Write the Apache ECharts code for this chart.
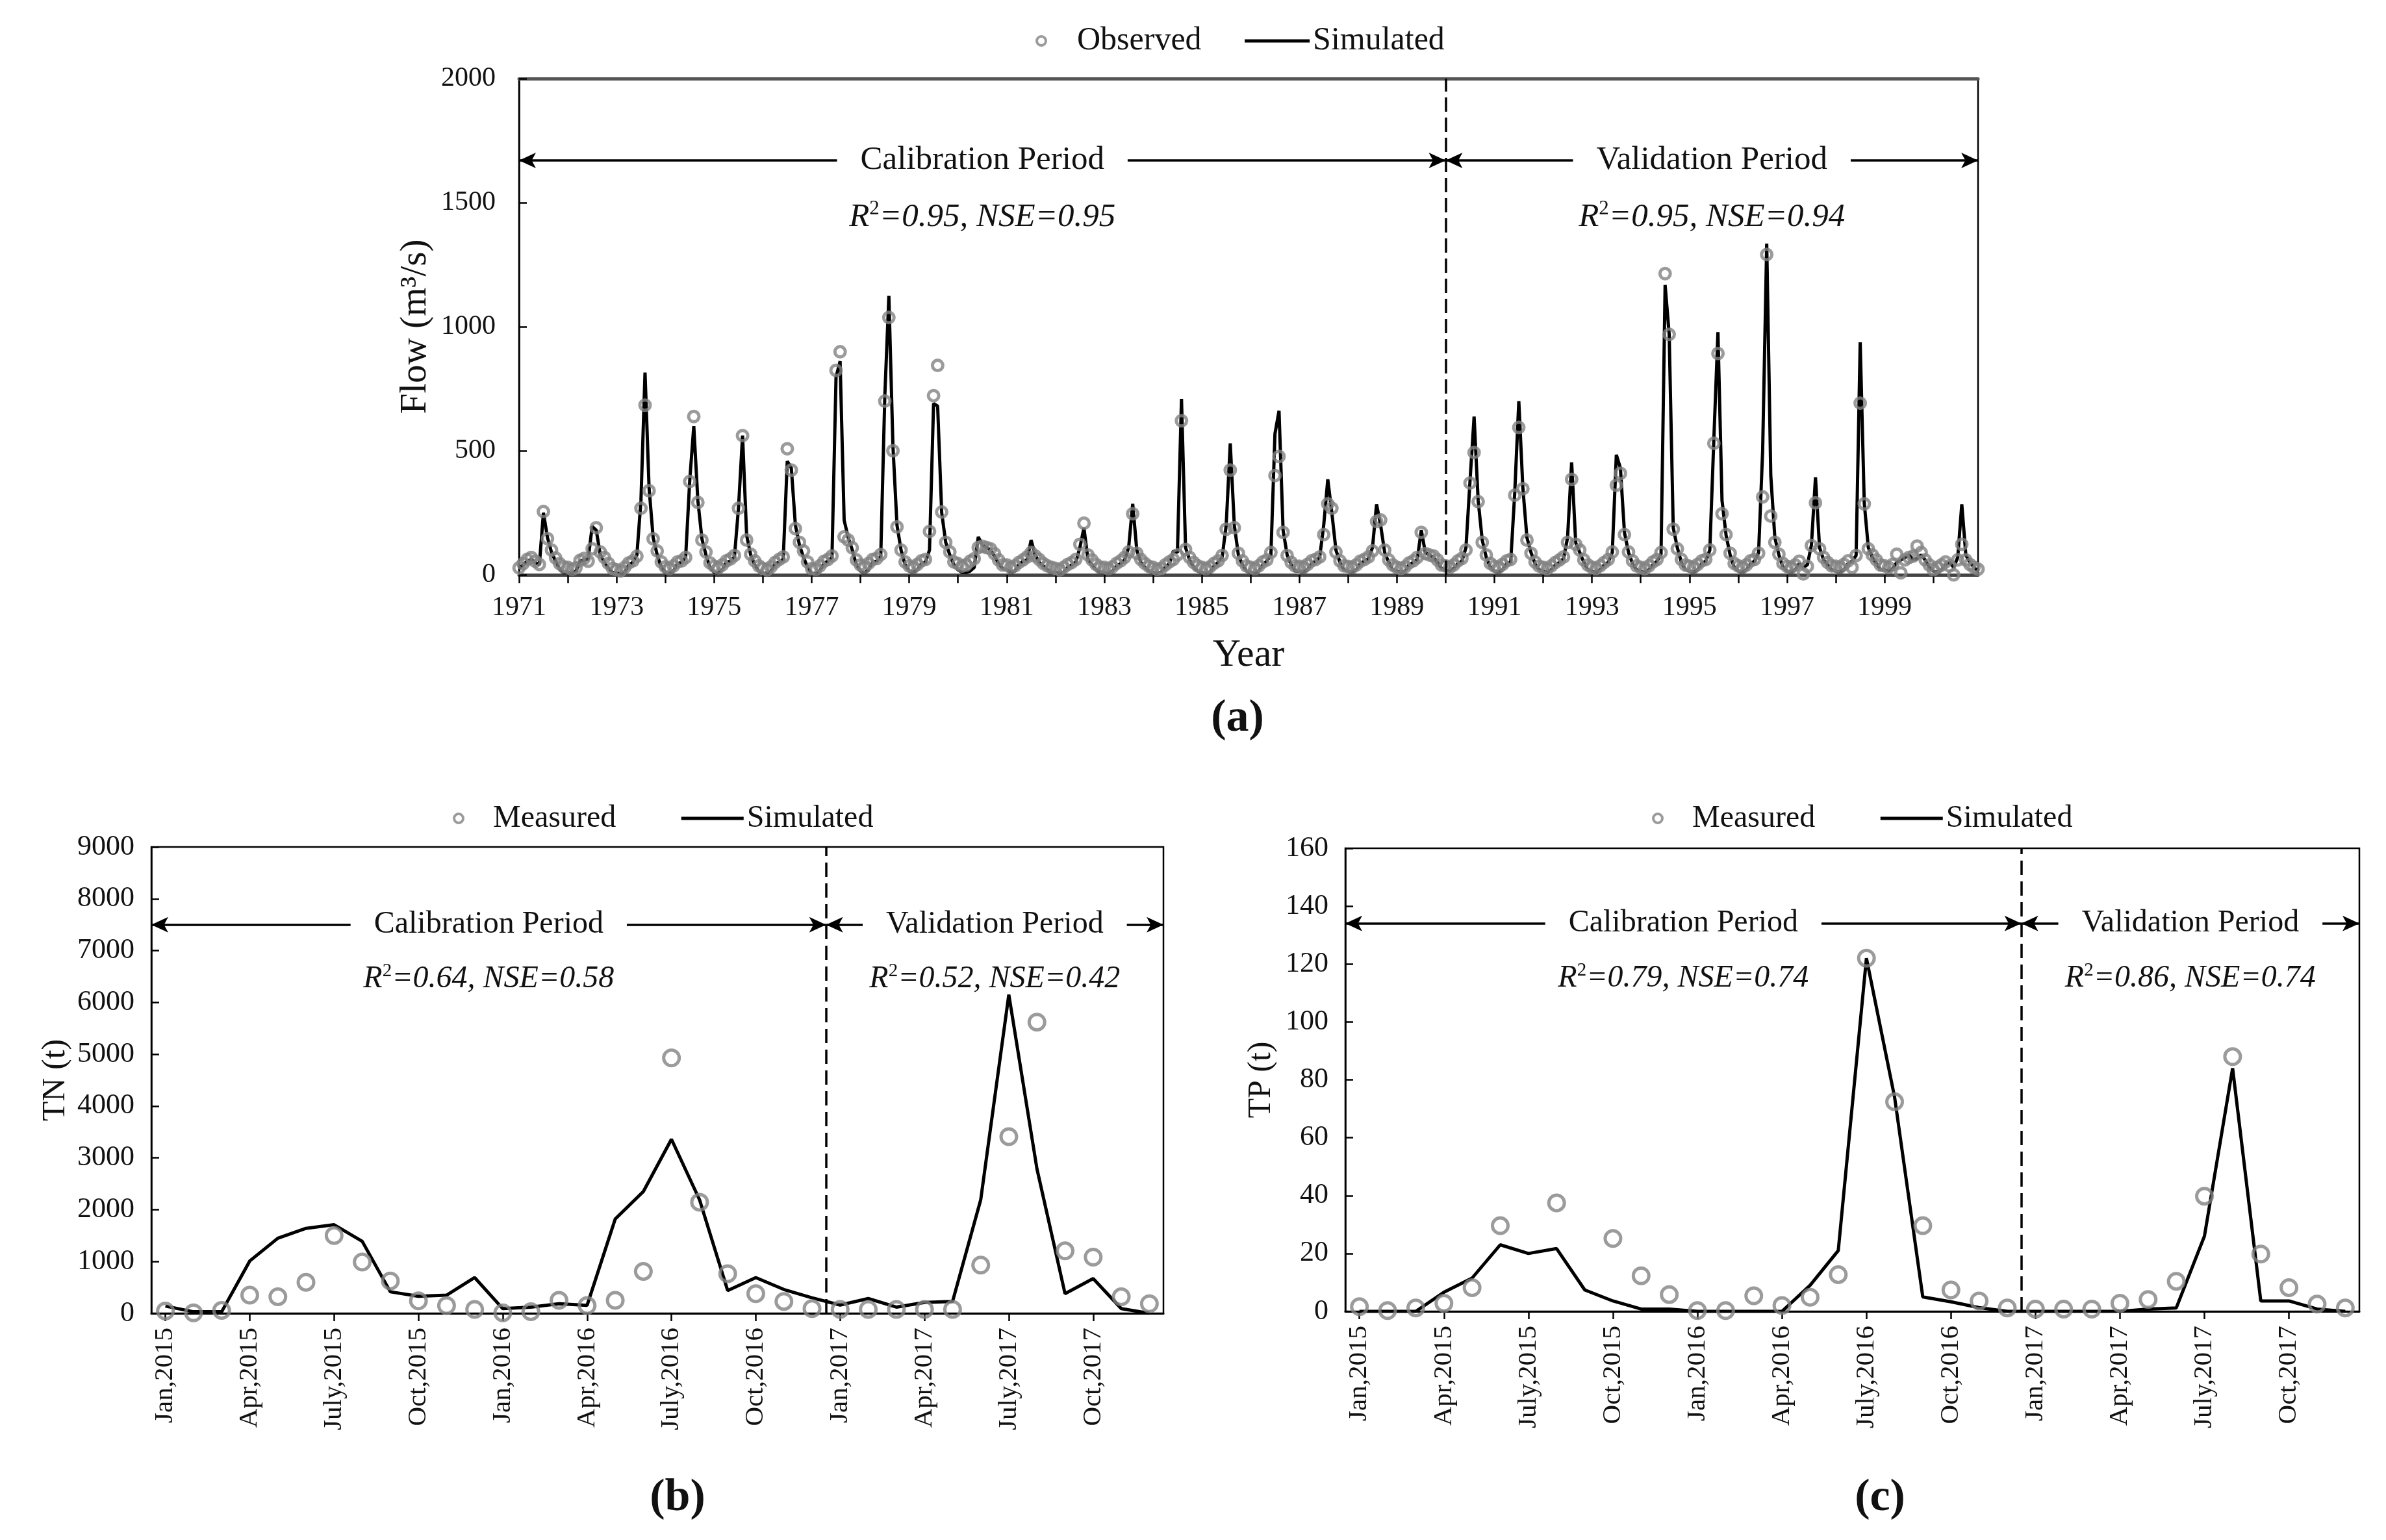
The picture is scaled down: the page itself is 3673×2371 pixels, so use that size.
<!DOCTYPE html>
<html>
<head>
<meta charset="utf-8">
<title>Flow, TN and TP: observed vs simulated</title>
<script src="https://cdn.jsdelivr.net/npm/echarts@6/dist/echarts.min.js"></script>
<style>
  html, body { margin: 0; padding: 0; background: #fff; }
  #chart { width: 3673px; height: 2371px; }
</style>
</head>
<body>
<div id="chart"></div>
<script>
// ---------- data ----------
// (a) monthly flow, Jan 1971 .. Dec 2000, m3/s (one row per year)
const flowYears = [1971, 1972, 1973, 1974, 1975, 1976, 1977, 1978, 1979, 1980,
                   1981, 1982, 1983, 1984, 1985, 1986, 1987, 1988, 1989, 1990,
                   1991, 1992, 1993, 1994, 1995, 1996, 1997, 1998, 1999, 2000];
const flowTickYears = [1971, 1973, 1975, 1977, 1979, 1981, 1983, 1985, 1987, 1989, 1991, 1993, 1995, 1997, 1999];

const flowObserved = [
  28, 45, 62, 70, 55, 42, 255, 146, 100, 68, 45, 32,
  30, 22, 28, 58, 66, 55, 105, 190, 92, 70, 46, 26,
  20, 16, 30, 48, 56, 75, 268, 684, 339, 145, 96, 52,
  32, 25, 36, 52, 56, 70, 376, 638, 292, 140, 92, 48,
  35, 28, 40, 56, 64, 78, 268, 561, 140, 83, 56, 36,
  26, 20, 32, 50, 62, 72, 508, 422, 186, 131, 96, 52,
  25, 22, 36, 54, 62, 76, 824, 899, 153, 140, 109, 60,
  40, 30, 46, 62, 66, 82, 700, 1037, 500, 193, 100, 52,
  36, 30, 42, 56, 62, 175, 722, 844, 253, 131, 92, 52,
  45, 35, 40, 55, 65, 110, 115, 110, 105, 85, 60, 40,
  40, 30, 36, 50, 60, 72, 90, 76, 62, 46, 36, 30,
  26, 20, 30, 42, 50, 62, 123, 208, 80, 60, 42, 30,
  30, 25, 32, 46, 56, 70, 92, 246, 87, 62, 46, 34,
  30, 22, 26, 40, 52, 62, 80, 621, 102, 70, 50, 36,
  30, 25, 32, 46, 56, 78, 184, 422, 190, 87, 56, 36,
  30, 25, 36, 52, 60, 90, 400, 477, 171, 78, 50, 35,
  35, 30, 42, 56, 62, 72, 162, 286, 268, 92, 56, 36,
  34, 30, 40, 55, 62, 72, 96, 215, 221, 100, 60, 40,
  30, 26, 32, 48, 56, 70, 171, 86, 80, 76, 60, 40,
  36, 30, 40, 56, 66, 100, 370, 493, 295, 131, 80, 46,
  35, 30, 42, 56, 62, 321, 594, 347, 140, 87, 52, 35,
  30, 25, 36, 50, 60, 72, 131, 385, 123, 100, 60, 40,
  30, 26, 36, 50, 62, 92, 361, 409, 162, 92, 56, 36,
  30, 25, 36, 52, 62, 90, 1214, 969, 184, 105, 62, 40,
  35, 30, 42, 56, 62, 100, 530, 892, 246, 162, 87, 46,
  36, 30, 40, 56, 62, 87, 314, 1291, 237, 131, 83, 46,
  34, 30, 40, 55, 4, 34, 118, 290, 105, 70, 50, 36,
  35, 30, 42, 56, 30, 78, 692, 286, 105, 80, 60, 40,
  36, 30, 42, 83, 8, 60, 70, 75, 116, 90, 60, 40,
  21, 30, 40, 52, 36, 0, 60, 123, 60, 42, 30, 23
];

const flowSimulated = [
  25, 40, 55, 62, 50, 40, 250, 150, 90, 55, 22, 8,
  10, 5, 15, 55, 60, 62, 195, 180, 80, 50, 26, 10,
  8, 4, 10, 40, 50, 80, 300, 815, 350, 150, 80, 30,
  10, 5, 15, 45, 50, 72, 380, 599, 300, 145, 80, 30,
  10, 8, 20, 50, 55, 72, 270, 561, 160, 80, 40, 15,
  8, 5, 15, 45, 50, 62, 458, 430, 200, 120, 70, 30,
  5, 5, 15, 45, 55, 70, 797, 861, 220, 150, 100, 40,
  15, 8, 20, 50, 55, 75, 720, 1124, 520, 200, 100, 40,
  15, 10, 20, 45, 50, 100, 690, 680, 250, 130, 80, 40,
  20, 10, 10, 15, 30, 153, 120, 110, 100, 75, 45, 25,
  20, 10, 15, 40, 55, 60, 140, 80, 50, 35, 20, 10,
  10, 5, 10, 30, 40, 50, 110, 189, 60, 40, 20, 10,
  10, 5, 15, 35, 45, 60, 110, 286, 100, 50, 30, 15,
  10, 5, 10, 30, 45, 96, 90, 709, 110, 60, 30, 15,
  10, 5, 10, 35, 50, 70, 200, 530, 200, 80, 40, 15,
  10, 5, 15, 40, 55, 80, 568, 661, 180, 80, 40, 15,
  15, 10, 20, 45, 55, 70, 200, 385, 250, 100, 50, 20,
  15, 10, 20, 45, 55, 65, 110, 284, 200, 90, 50, 20,
  15, 10, 15, 40, 50, 60, 180, 90, 80, 70, 50, 25,
  20, 15, 25, 45, 55, 110, 380, 638, 300, 140, 70, 30,
  15, 10, 20, 45, 50, 330, 700, 350, 150, 90, 45, 20,
  15, 10, 20, 40, 50, 65, 150, 453, 130, 90, 50, 20,
  15, 10, 20, 40, 50, 90, 484, 430, 170, 90, 45, 20,
  15, 10, 20, 40, 55, 83, 1168, 970, 190, 110, 50, 20,
  15, 10, 20, 45, 55, 100, 550, 978, 300, 160, 80, 30,
  15, 10, 20, 45, 55, 90, 500, 1335, 400, 150, 80, 30,
  15, 10, 20, 45, 30, 40, 120, 393, 110, 60, 40, 20,
  15, 10, 20, 45, 55, 78, 937, 290, 110, 70, 45, 20,
  20, 15, 25, 50, 60, 70, 80, 60, 65, 80, 60, 30,
  15, 10, 20, 40, 50, 30, 70, 284, 80, 50, 30, 15
];
const flowSplitYear = 1990;
const flowStats = [['0.95', '0.95'], ['0.95', '0.94']];

// (b) / (c) monthly loads, Jan 2015 .. Dec 2017
const loadYears = [2015, 2016, 2017];
const monthNames = ['Jan', 'Feb', 'Mar', 'Apr', 'May', 'June', 'July', 'Aug', 'Sep', 'Oct', 'Nov', 'Dec'];

const tnMeasured = [45, 10, 55, 350, 320, 600, 1500, 990, 625, 240, 150, 75,
                    10, 30, 250, 150, 250, 810, 4930, 2145, 765, 380, 230, 90,
                    75, 75, 75, 75, 75, 930, 3410, 5620, 1205, 1085, 320, 185];
const tnSimulated = [140, 30, 30, 1010, 1450, 1640, 1710, 1390, 415, 330, 350, 690,
                     90, 120, 185, 155, 1820, 2350, 3360, 2190, 440, 690, 460, 300,
                     160, 285, 120, 210, 230, 2190, 6150, 2790, 380, 670, 90, 0];
const tnStats = [['0.64', '0.58'], ['0.52', '0.42']];

const tpMeasured = [1.6, 0.3, 1.2, 2.8, 8.2, 29.6, null, 37.5, null, 25.2, 12.3, 5.8,
                    0.3, 0.3, 5.4, 2.0, 4.9, 12.7, 122, 72.4, 29.6, 7.4, 3.6, 1.2,
                    0.8, 0.8, 0.8, 2.8, 4.1, 10.4, 39.8, 88, 19.8, 8.2, 2.5, 1.2];
const tpSimulated = [0, 0, 0, 6.6, 11.5, 23, 20, 21.7, 7.4, 3.6, 0.8, 0.8,
                     0, 0, 0, 0, 9, 21, 122, 74, 5, 3.3, 1.3, 0,
                     0, 0, 0, 0, 0.8, 1.2, 26, 84, 3.6, 3.6, 0.8, 0];
const tpStats = [['0.79', '0.74'], ['0.86', '0.74']];

// ---------- styling ----------
const FONT = '"Liberation Serif", "Times New Roman", serif';
const INK = '#111';
const GREY = '#828282';

const chart = echarts.init(document.getElementById('chart'));

const pairs = arr => arr.map((v, i) => [i, v]).filter(p => p[1] != null);

function statsLabel(st) {
  return '{i|R}{s|2}{i|=' + st[0] + ', NSE=' + st[1] + '}';
}
function statsRich(size) {
  return {
    i: { fontFamily: FONT, fontStyle: 'italic', fontSize: size, color: INK, lineHeight: size + 6 },
    s: { fontFamily: FONT, fontSize: Math.round(size * 0.6), color: INK, lineHeight: Math.round(size * 0.6), verticalAlign: 'top' }
  };
}

// annotation pieces: period arrows + R2/NSE text
function periodMarks(x0, xs, x1, yArrow, yStats, stats, size) {
  const lbl = text => ({
    show: true, position: 'middle', distance: 0,
    align: 'center', verticalAlign: 'middle', formatter: text,
    fontFamily: FONT, fontSize: size, color: INK,
    backgroundColor: '#fff', padding: [2, 36]
  });
  return {
    markLine: {
      silent: true, animation: false,
      symbol: ['arrow', 'arrow'], symbolSize: [18, 26],
      lineStyle: { color: '#000', width: 3.5, type: 'solid' },
      data: [
        [{ coord: [x0, yArrow], label: lbl('Calibration Period') }, { coord: [xs, yArrow] }],
        [{ coord: [xs, yArrow], label: lbl('Validation Period') }, { coord: [x1, yArrow] }]
      ]
    },
    markPoint: {
      silent: true, animation: false,
      symbol: 'circle', symbolSize: 1,
      itemStyle: { color: 'rgba(0,0,0,0)' },
      label: { show: true, position: 'inside', rich: statsRich(size) },
      data: [
        { coord: [(x0 + xs) / 2, yStats], label: { formatter: statsLabel(stats[0]) } },
        { coord: [(xs + x1) / 2, yStats], label: { formatter: statsLabel(stats[1]) } }
      ]
    }
  };
}
function splitMark(xs, dash) {
  return {
    silent: true, animation: false,
    symbol: ['none', 'none'],
    lineStyle: { color: '#000', width: 3.5, type: dash },
    label: { show: false },
    data: [{ xAxis: xs }]
  };
}

// ---------- axes ----------
const flowN = flowObserved.length;
const flowTickIdx = flowYears.map((y, k) => k * 12);
const flowLabelIdx = flowTickYears.map(y => (y - flowYears[0]) * 12);
const flowSplit = (flowSplitYear - flowYears[0]) * 12;

const loadN = loadYears.length * 12;
const loadLabelIdx = [];
for (let i = 0; i < loadN; i += 3) loadLabelIdx.push(i);
const loadLabel = v => monthNames[v % 12] + ',' + loadYears[Math.floor(v / 12)];
const loadSplit = 23.5;

const tickFont = size => ({ fontFamily: FONT, fontSize: size, color: INK });
const plain = v => String(v);

function loadXAxis(gridIndex) {
  return {
    gridIndex, type: 'value', min: -0.5, max: loadN - 0.5,
    axisLine: { onZero: false, lineStyle: { color: '#000', width: 3 } },
    axisTick: { customValues: loadLabelIdx, length: 12, lineStyle: { color: '#000', width: 2.5 } },
    axisLabel: Object.assign({ customValues: loadLabelIdx, rotate: 90, margin: 22, formatter: loadLabel }, tickFont(41)),
    splitLine: { show: false }
  };
}
function loadYAxis(gridIndex, max, step, name, gap) {
  return {
    gridIndex, type: 'value', min: 0, max, interval: step,
    axisLine: { show: true, onZero: false, lineStyle: { color: '#000', width: 2.5 } },
    axisTick: { inside: true, length: 12, lineStyle: { color: '#000', width: 2.5 } },
    axisLabel: Object.assign({ margin: 26, formatter: plain }, tickFont(44)),
    splitLine: { show: false },
    name, nameLocation: 'middle', nameGap: gap,
    nameTextStyle: { fontFamily: FONT, fontSize: 50, color: INK }
  };
}

function legendFor(left, top, dotName, size, width, gap) {
  return {
    left, top, itemWidth: width, itemHeight: 14, itemGap: gap, selectedMode: false,
    textStyle: { fontFamily: FONT, fontSize: size, color: INK },
    data: [
      { name: dotName, itemStyle: { borderColor: GREY, borderWidth: 4, color: 'rgba(255,255,255,0)' } },
      { name: 'Simulated', itemStyle: { opacity: 0 }, lineStyle: { width: 5, color: '#000' } }
    ]
  };
}

const option = {
  animation: false,
  backgroundColor: '#fff',
  grid: [
    { left: 799, right: 628, top: 121, bottom: 1486, show: true, borderColor: '#000', borderWidth: 2.5 },
    { left: 233, right: 1882, top: 1304, bottom: 349, show: true, borderColor: '#000', borderWidth: 2.5 },
    { left: 2071, right: 41, top: 1306, bottom: 352, show: true, borderColor: '#000', borderWidth: 2.5 }
  ],
  legend: [
    legendFor(1589, 33, 'Observed', 50, 100, 64),
    legendFor(692, 1231, 'Measured', 48, 96, 98),
    legendFor(2538, 1231, 'Measured', 48, 96, 98)
  ],
  xAxis: [
    {
      gridIndex: 0, type: 'value', min: 0, max: flowN - 1,
      axisLine: { onZero: false, lineStyle: { color: '#444', width: 5 } },
      axisTick: { customValues: flowTickIdx, length: 13, lineStyle: { color: '#000', width: 2.5 } },
      axisLabel: Object.assign({ customValues: flowLabelIdx, margin: 30, formatter: v => String(flowYears[v / 12]) }, tickFont(42)),
      splitLine: { show: false },
      name: 'Year', nameLocation: 'middle', nameGap: 94,
      nameTextStyle: { fontFamily: FONT, fontSize: 60, color: INK }
    },
    {
      gridIndex: 0, type: 'value', position: 'top', min: 0, max: flowN - 1,
      axisLine: { onZero: false, lineStyle: { color: '#555', width: 5 } },
      axisTick: { show: false }, axisLabel: { show: false }, splitLine: { show: false }
    },
    loadXAxis(1),
    loadXAxis(2)
  ],
  yAxis: [
    {
      gridIndex: 0, type: 'value', min: 0, max: 2000, interval: 500,
      axisLine: { show: true, onZero: false, lineStyle: { color: '#000', width: 2.5 } },
      axisTick: { inside: true, length: 12, lineStyle: { color: '#000', width: 2.5 } },
      axisLabel: Object.assign({ margin: 36, formatter: plain }, tickFont(42)),
      splitLine: { show: false },
      name: 'Flow (m³/s)', nameLocation: 'middle', nameGap: 130,
      nameTextStyle: { fontFamily: FONT, fontSize: 57, color: INK }
    },
    loadYAxis(1, 9000, 1000, 'TN (t)', 122),
    loadYAxis(2, 160, 20, 'TP (t)', 104)
  ],
  series: [
    Object.assign({
      name: 'Simulated', type: 'line', xAxisIndex: 0, yAxisIndex: 0,
      data: pairs(flowSimulated), symbol: 'none',
      lineStyle: { color: '#000', width: 5 }, itemStyle: { color: '#000' }, z: 2
    }, periodMarks(0, flowSplit, flowN - 1, 1670, 1440, flowStats, 51)),
    {
      name: 'Observed', type: 'scatter', xAxisIndex: 0, yAxisIndex: 0,
      data: pairs(flowObserved), symbol: 'circle', symbolSize: 16,
      itemStyle: { color: 'rgba(255,255,255,0)', borderColor: GREY, borderWidth: 5 }, z: 3,
      markLine: splitMark(flowSplit, [22, 9])
    },
    Object.assign({
      name: 'Simulated', type: 'line', xAxisIndex: 2, yAxisIndex: 1,
      data: pairs(tnSimulated), symbol: 'none',
      lineStyle: { color: '#000', width: 5 }, itemStyle: { color: '#000' }, z: 2
    }, periodMarks(-0.5, loadSplit, loadN - 0.5, 7500, 6450, tnStats, 48)),
    {
      name: 'Measured', type: 'scatter', xAxisIndex: 2, yAxisIndex: 1,
      data: pairs(tnMeasured), symbol: 'circle', symbolSize: 24,
      itemStyle: { color: 'rgba(255,255,255,0)', borderColor: GREY, borderWidth: 5 }, z: 3,
      markLine: splitMark(loadSplit, [22, 10])
    },
    Object.assign({
      name: 'Simulated', type: 'line', xAxisIndex: 3, yAxisIndex: 2,
      data: pairs(tpSimulated), symbol: 'none',
      lineStyle: { color: '#000', width: 5 }, itemStyle: { color: '#000' }, z: 2
    }, periodMarks(-0.5, loadSplit, loadN - 0.5, 134, 115, tpStats, 48)),
    {
      name: 'Measured', type: 'scatter', xAxisIndex: 3, yAxisIndex: 2,
      data: pairs(tpMeasured), symbol: 'circle', symbolSize: 24,
      itemStyle: { color: 'rgba(255,255,255,0)', borderColor: GREY, borderWidth: 5 }, z: 3,
      markLine: splitMark(loadSplit, [22, 10])
    }
  ],
  graphic: [
    ['(a)', 1905, 1107], ['(b)', 1043, 2307], ['(c)', 2894, 2307]
  ].map(t => ({
    type: 'text', x: t[1], y: t[2], silent: true,
    style: {
      text: t[0], fill: INK, font: 'bold 70px ' + FONT,
      align: 'center', verticalAlign: 'middle', textAlign: 'center', textVerticalAlign: 'middle'
    }
  }))
};

chart.setOption(option);
</script>
</body>
</html>
